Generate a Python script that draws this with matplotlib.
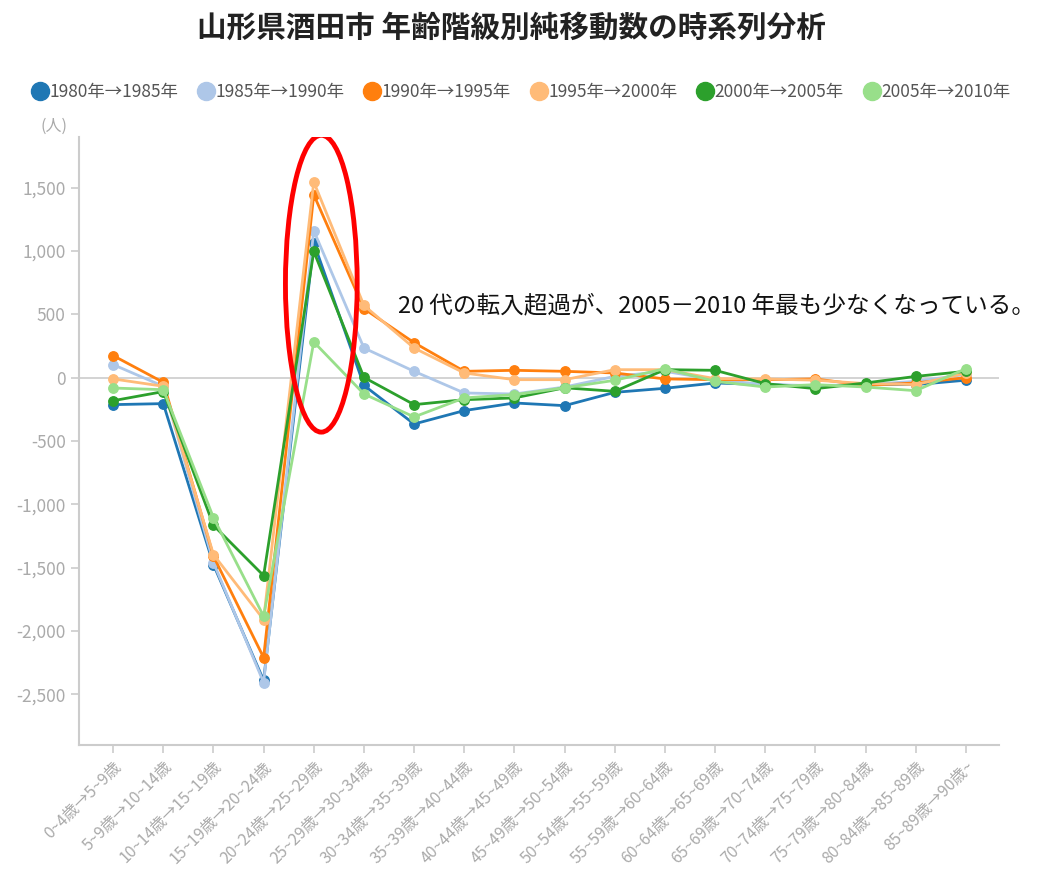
import matplotlib as mpl
import matplotlib.pyplot as plt
from matplotlib.lines import Line2D
from matplotlib.patches import Ellipse

plt.rcParams['font.family'] = ['Noto Sans CJK JP', 'DejaVu Sans']

categories = ['0~4歳→5~9歳', '5~9歳→10~14歳', '10~14歳→15~19歳', '15~19歳→20~24歳',
              '20~24歳→25~29歳', '25~29歳→30~34歳', '30~34歳→35~39歳', '35~39歳→40~44歳',
              '40~44歳→45~49歳', '45~49歳→50~54歳', '50~54歳→55~59歳', '55~59歳→60~64歳',
              '60~64歳→65~69歳', '65~69歳→70~74歳', '70~74歳→75~79歳', '75~79歳→80~84歳',
              '80~84歳→85~89歳', '85~89歳→90歳~']

series_names = ['1980年→1985年', '1985年→1990年', '1990年→1995年',
                '1995年→2000年', '2000年→2005年', '2005年→2010年']
series_colors = ['#1f77b4', '#aec7e8', '#ff7f0e', '#ffbb78', '#2ca02c', '#98df8a']

v1980 = [-213, -205, -1476, -2390, 1065, -61, -366, -260, -200, -221, -116, -84, -42, -55, -68, -55, -55, -20]
v1985 = [103, -68, -1460, -2407, 1160, 234, 50, -121, -129, -74, 10, 50, -16, -55, -63, -55, -29, 25]
v1990 = [174, -37, -1410, -2210, 1444, 545, 276, 50, 58, 50, 37, -10, -16, -16, -10, -61, -42, 0]
v1995 = [-10, -68, -1397, -1910, 1545, 570, 234, 37, -16, -16, 63, 63, -8, -10, -20, -47, -55, 37]
v2000 = [-182, -110, -1166, -1563, 997, 2, -213, -174, -160, -80, -108, 63, 58, -47, -87, -42, 10, 50]
v2005 = [-82, -95, -1105, -1884, 282, -129, -310, -160, -134, -80, -21, 71, -29, -74, -55, -74, -103, 71]
series_values = [v1980, v1985, v1990, v1995, v2000, v2005]

title = '山形県酒田市 年齢階級別純移動数の時系列分析'
note = '20 代の転入超過が、2005－2010 年最も少なくなっている。'

fig = plt.figure(figsize=(10.51, 8.81), dpi=100)
ax = fig.add_axes([0.0752, 0.1544, 0.8753, 0.6901])

x = list(range(len(categories)))
for name, vals, col in zip(series_names, series_values, series_colors):
    ax.plot(x, vals, color=col, lw=2, marker='o', markersize=6.8, label=name, zorder=3)

ax.axhline(0, color='#cccccc', lw=1.2, zorder=1)

ax.set_xlim(-0.68, 17.66)
ax.set_ylim(-2900, 1900)
ax.set_yticks([-2500, -2000, -1500, -1000, -500, 0, 500, 1000, 1500])
ax.yaxis.set_major_formatter(mpl.ticker.FuncFormatter(lambda v, p: '{:,.0f}'.format(v)))
ax.set_xticks(x)
ax.set_xticklabels(categories, rotation=45, ha='right', rotation_mode='anchor')

for s in ['top', 'right']:
    ax.spines[s].set_visible(False)
for s in ['left', 'bottom']:
    ax.spines[s].set_color('#cccccc')
    ax.spines[s].set_linewidth(1.5)
ax.tick_params(axis='both', colors='#cccccc', labelcolor='#aaaaaa', length=6, width=1.2)
ax.tick_params(axis='y', labelsize=12.5)
ax.tick_params(axis='x', labelsize=11.5)

ax.text(-0.9, 1985, '(人)', ha='right', va='center', color='#aaaaaa', fontsize=11.5)

# red ellipse around the 20s peak
ell = Ellipse((4.15, 742), width=1.43, height=2344, fill=False, edgecolor='#ff0000', lw=3.5, zorder=5)
ax.add_patch(ell)

ax.text(5.68, 565, note, fontsize=17, color='#111111', va='center', ha='left', zorder=6,
        bbox=dict(facecolor='white', edgecolor='none', pad=2))

fig.text(0.487, 1 - 28 / 881, title, ha='center', va='center', fontsize=21.3, fontweight='bold', color='#222222')

handles = [Line2D([], [], color=c, marker='o', linestyle='none', markersize=13) for c in series_colors]
fig.legend(handles, series_names, loc='center', bbox_to_anchor=(0.495, 1 - 92 / 881), ncol=6,
           frameon=False, fontsize=12.5, handletextpad=0.0, columnspacing=1.05, handlelength=1.1,
           labelcolor='#555555')

plt.savefig('out.png')
